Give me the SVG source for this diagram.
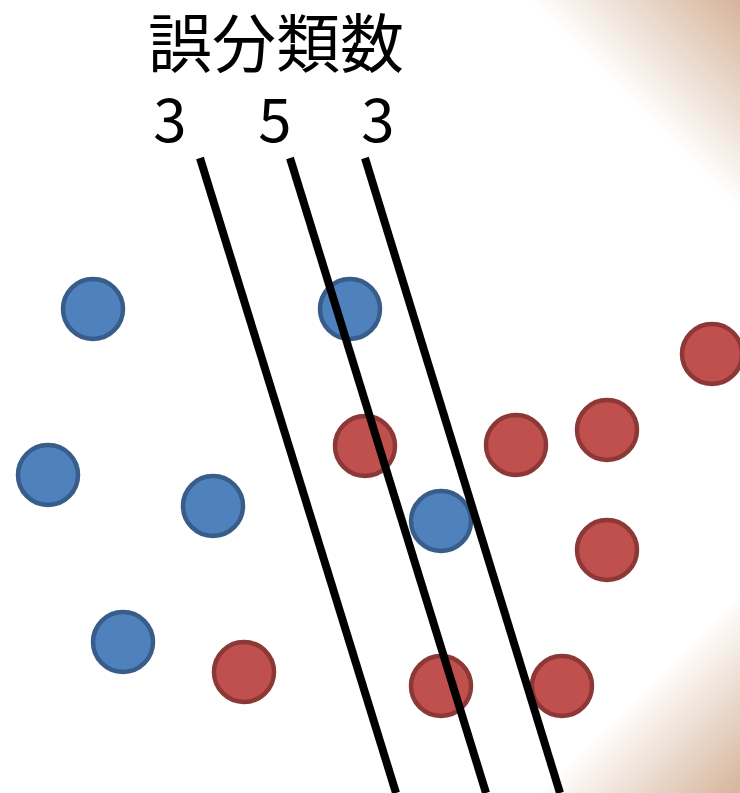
<svg xmlns="http://www.w3.org/2000/svg" width="740" height="793" viewBox="0 0 740 793">
<style>
.b{fill:#4F81BD;stroke:#385D8A;stroke-width:4.5}
.r{fill:#C0504D;stroke:#8C3836;stroke-width:4.5}
.l{stroke:#000;stroke-width:8;fill:none}
.t{font-family:"Noto Sans CJK JP","Noto Sans",sans-serif;fill:#000}
</style>
<defs>
<linearGradient id="g1" gradientUnits="userSpaceOnUse" x1="635" y1="105" x2="740" y2="0">
<stop offset="0" stop-color="#D6B49A" stop-opacity="0"/>
<stop offset="1" stop-color="#D6B49A" stop-opacity="1"/>
</linearGradient>
<linearGradient id="g2" gradientUnits="userSpaceOnUse" x1="640" y1="692" x2="740" y2="793">
<stop offset="0" stop-color="#D6B49A" stop-opacity="0"/>
<stop offset="1" stop-color="#D6B49A" stop-opacity="1"/>
</linearGradient>
</defs>
<rect width="740" height="793" fill="#fff"/>
<polygon points="530,0 740,0 740,210" fill="url(#g1)"/>
<polygon points="540,793 740,793 740,590" fill="url(#g2)"/>
<g id="title">
<text class="t" x="276" y="67" font-size="64" text-anchor="middle">誤分類数</text>
<text class="t" x="170" y="142" font-size="60" text-anchor="middle">3</text>
<text class="t" x="275" y="142" font-size="60" text-anchor="middle">5</text>
<text class="t" x="378" y="142" font-size="60" text-anchor="middle">3</text>
</g>
<g id="points">
<circle id="b1" class="b" cx="93" cy="309" r="30"/>
<circle id="b2" class="b" cx="350" cy="309" r="30"/>
<circle id="b3" class="b" cx="48" cy="475" r="30"/>
<circle id="b4" class="b" cx="213" cy="506" r="30"/>
<circle id="b5" class="b" cx="441" cy="521" r="30"/>
<circle id="b6" class="b" cx="123" cy="642" r="30"/>
<circle id="r1" class="r" cx="712" cy="354" r="30"/>
<circle id="r2" class="r" cx="365" cy="446" r="30"/>
<circle id="r3" class="r" cx="516" cy="445" r="30"/>
<circle id="r4" class="r" cx="607" cy="430" r="30"/>
<circle id="r5" class="r" cx="607" cy="550" r="30"/>
<circle id="r6" class="r" cx="244" cy="672" r="30"/>
<circle id="r7" class="r" cx="441" cy="686" r="30"/>
<circle id="r8" class="r" cx="562" cy="686" r="30"/>
</g>
<g id="lines">
<line class="l" x1="200" y1="158" x2="396" y2="793"/>
<line class="l" x1="290" y1="158" x2="486" y2="793"/>
<line class="l" x1="365" y1="158" x2="560" y2="793"/>
</g>
</svg>
